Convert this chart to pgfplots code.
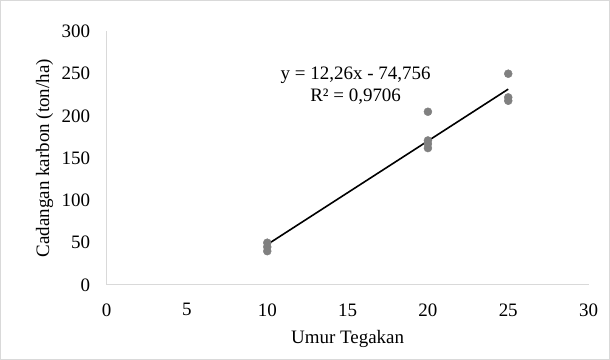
\documentclass[border=0pt]{standalone}
\usepackage{pgfplots}
\pgfplotsset{compat=1.18}
\usepackage{fontspec}
\setmainfont{Liberation Serif}
\definecolor{pt}{RGB}{128,128,128}
\definecolor{ax}{RGB}{217,217,217}
\begin{document}
\begin{tikzpicture}[x=1bp,y=1bp]
\draw[ax, line width=0.8bp] (-106,-74) rectangle (502,284);
\begin{axis}[
  at={(0,0)}, anchor=origin,
  scale only axis, width=481bp, height=253bp,
  xmin=0, xmax=30, ymin=0, ymax=300,
  xtick={0,5,...,30}, ytick={0,50,...,300},
  axis x line*=bottom, axis y line*=left,
  axis line style={ax, line width=1bp, -},
  major tick length=0pt,
  tick label style={font=\fontsize{19}{22}\selectfont},
  yticklabel style={xshift=-13bp},
  xticklabel style={yshift=-15bp},
  /pgf/number format/assume math mode=true,
  xlabel={Umur Tegakan}, ylabel={Cadangan karbon (ton/ha)},
  label style={font=\fontsize{19}{22}\selectfont},
  xlabel style={at={(axis description cs:0.5,0)}, anchor=center, yshift=-54bp},
  ylabel style={at={(axis description cs:0,0.5)}, anchor=center, yshift=62bp},
  clip=false,
]
\addplot[only marks, mark=*, mark size=4bp, pt, mark options={draw=pt, fill=pt}] coordinates {
 (10,50) (10,45) (10,40)
 (20,205) (20,171) (20,167) (20,162)
 (25,250) (25,222) (25,218)
};
\addplot[black, line width=1.6bp] coordinates {(10,47.844) (25,231.744)};
\node[font=\fontsize{19}{22}\selectfont, align=center, inner sep=0pt] at (axis cs:15.5,236) {y = 12,26x - 74,756\\R² = 0,9706};
\end{axis}
\end{tikzpicture}
\end{document}
